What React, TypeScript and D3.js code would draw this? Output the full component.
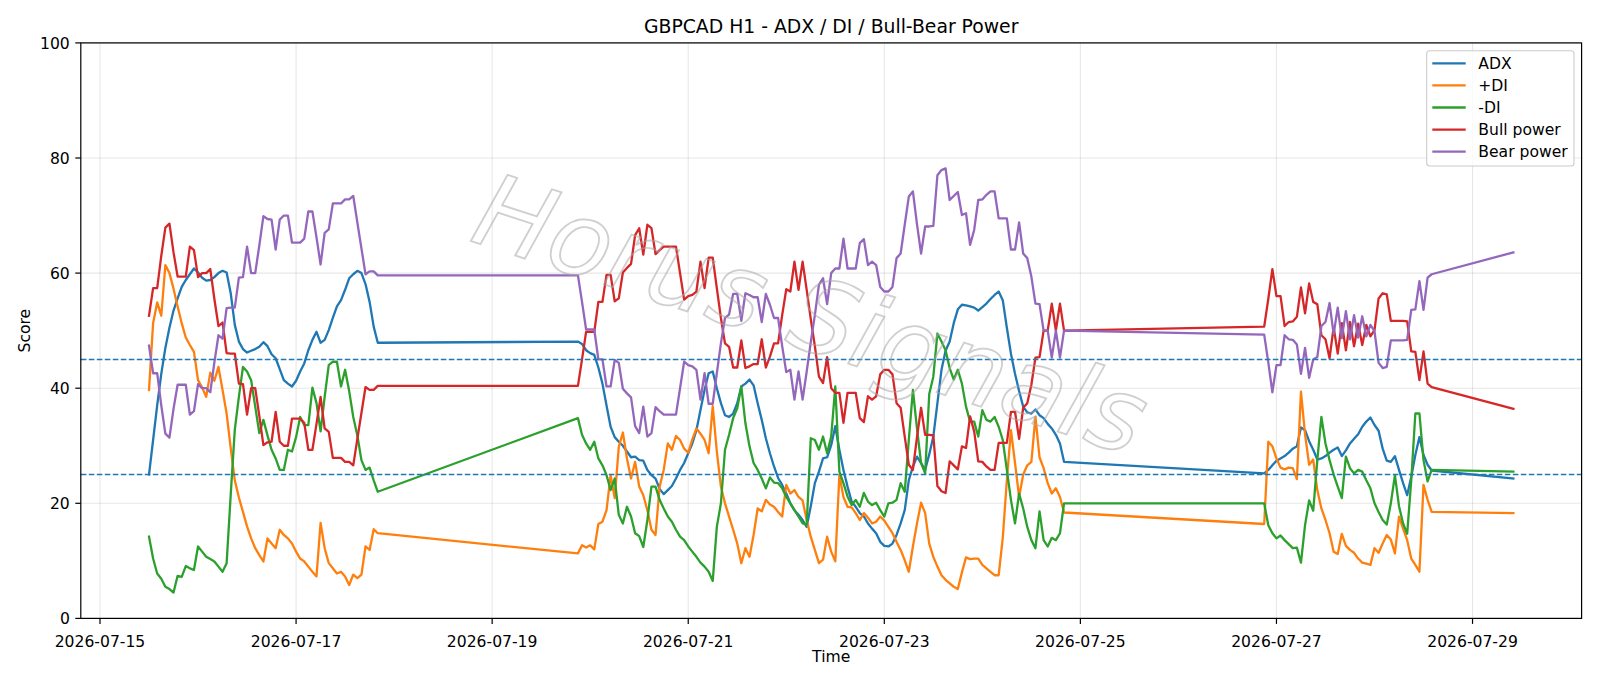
import * as d3 from "d3";
import {useEffect, useRef} from "react";

const W = 1600;
const H = 686;
const frame = {left: 80.8, right: 1581.6, top: 42.9, bottom: 618.4};
const font = "DejaVu Sans, Liberation Sans, sans-serif";

// hourly bars, one entry per trading session: first bar and number of bars
const sessions: [string, number][] = [
    ["2026-07-15T12:00:00Z", 57],
    ["2026-07-19T21:00:00Z", 120],
    ["2026-07-26T21:00:00Z", 42],
    ["2026-07-29T10:00:00Z", 1],
];

const adx = [
    25.0, 31.0, 37.0, 42.5, 47.0, 50.5, 53.5, 55.6, 57.6, 58.8,
    59.8, 60.8, 60.1, 59.2, 58.7, 58.8, 59.3, 60.0, 60.4, 60.1,
    56.5, 51.0, 48.1, 46.8, 46.2, 46.5, 46.8, 47.2, 48.0, 47.3,
    45.9, 45.2, 43.3, 41.4, 40.8, 40.3, 41.3, 42.9, 44.3, 46.6,
    48.4, 49.8, 47.9, 48.4, 50.1, 52.2, 54.2, 55.3, 57.1, 59.1,
    59.8, 60.4, 60.0, 58.1, 55.0, 50.7, 47.9,
    48.1, 47.7, 46.6, 46.1, 45.8, 43.6, 40.8, 37.0, 33.3, 31.5,
    30.7, 30.0, 29.0, 28.0, 28.1, 27.5, 27.4, 25.8, 24.9, 24.3,
    22.5, 21.6, 22.3, 23.0, 24.3, 25.8, 27.0, 28.7, 30.4, 32.7,
    36.2, 39.7, 42.6, 42.9, 40.0, 37.4, 35.3, 35.0, 35.6, 37.4,
    40.3, 40.8, 41.5, 40.5, 37.4, 34.5, 31.3, 28.7, 26.4, 24.4,
    23.2, 21.7, 20.0, 18.8, 18.0, 17.1, 15.9, 19.5, 23.5, 25.5,
    27.8, 28.0, 30.1, 33.4, 29.3, 25.8, 22.9, 20.3, 19.4, 18.3,
    17.7, 16.5, 15.6, 14.8, 13.3, 12.6, 12.5, 13.0, 14.5, 16.5,
    18.8, 24.0, 26.4, 28.1, 27.0, 25.8, 28.5, 31.6, 37.4, 43.2,
    46.5, 48.1, 51.3, 53.7, 54.5, 54.4, 54.2, 54.0, 53.5, 54.1,
    54.7, 55.5, 56.2, 56.8, 55.3, 50.5, 46.0, 42.5, 39.5, 36.8,
    35.8, 35.6, 36.3, 35.3, 34.8, 33.8, 33.0, 31.9, 30.4, 27.2,
    25.2, 25.8, 26.6, 27.4, 27.8, 28.2, 28.8, 29.5, 29.9, 33.2,
    32.7, 30.8, 29.3, 27.6, 27.8, 28.2, 28.8, 29.3, 29.7, 28.2,
    29.2, 30.4, 31.2, 32.0, 33.3, 34.2, 34.9, 33.6, 32.6, 29.5,
    27.4, 27.2, 28.2, 25.8, 23.5, 21.4, 24.6, 28.4, 31.5, 28.4,
    26.7, 25.7,
    24.3,
];

const plusDi = [
    39.7, 51.3, 54.9, 52.6, 61.4, 60.0, 57.3, 54.2, 51.3, 48.8,
    47.5, 46.3, 41.4, 40.1, 38.5, 42.7, 41.3, 43.7, 39.7, 35.6,
    29.6, 24.0, 21.0, 18.5, 16.0, 13.9, 12.2, 11.0, 9.9, 13.9,
    13.0, 12.2, 15.4, 14.5, 13.9, 13.0, 11.6, 10.4, 9.9, 9.0,
    8.1, 7.3, 16.6, 12.2, 9.6, 8.7, 7.8, 8.1, 7.3, 5.8,
    7.6, 7.0, 7.6, 12.5, 11.9, 15.5, 14.8,
    11.3, 12.7, 12.3, 12.7, 12.0, 16.4, 16.8, 18.8, 24.9, 20.9,
    29.8, 32.3, 27.8, 24.3, 27.2, 22.9, 21.4, 18.8, 15.4, 14.5,
    22.9, 25.8, 30.4, 29.3, 31.7, 31.0, 29.5, 28.8, 31.1, 33.0,
    32.1, 31.0, 28.7, 36.9, 29.0, 22.9, 20.0, 17.7, 15.4, 13.0,
    9.6, 12.2, 10.7, 14.5, 19.1, 18.6, 20.6, 19.8, 19.4, 18.5,
    17.7, 23.2, 21.7, 22.3, 21.1, 20.5, 17.1, 14.2, 11.9, 9.6,
    10.2, 14.2, 11.6, 9.9, 24.9, 21.1, 19.4, 19.3, 18.3, 17.1,
    18.3, 17.5, 16.5, 16.8, 17.7, 17.0, 15.9, 14.8, 13.3, 11.9,
    10.1, 8.1, 12.5, 16.5, 20.1, 18.3, 13.0, 10.7, 9.0, 7.5,
    6.7, 6.1, 5.5, 5.1, 8.0, 10.6, 10.3, 10.4, 10.4, 9.3,
    8.7, 8.1, 7.5, 7.5, 14.0, 24.0, 32.7, 27.0, 21.1, 25.0,
    26.6, 27.2, 35.0, 28.0, 26.1, 23.5, 21.7, 22.6, 21.1, 18.4,
    16.4, 30.7, 29.9, 27.8, 26.2, 25.9, 26.2, 26.1, 24.2, 39.4,
    32.0, 26.7, 27.6, 22.3, 19.1, 17.1, 14.8, 11.6, 11.2, 14.7,
    12.6, 11.9, 11.4, 10.4, 9.7, 9.5, 9.3, 12.2, 11.4, 13.0,
    14.5, 13.7, 11.3, 17.7, 15.6, 13.6, 10.4, 9.3, 8.1, 23.2,
    20.6, 18.5,
    18.3,
];

const minusDi = [
    14.2, 10.4, 7.8, 6.9, 5.5, 5.1, 4.5, 7.4, 7.2, 9.1,
    8.7, 8.4, 12.5, 11.6, 10.7, 10.3, 9.9, 9.0, 8.1, 9.6,
    21.5, 32.8, 38.5, 43.7, 42.9, 41.4, 36.8, 32.2, 34.5, 31.8,
    29.3, 27.8, 25.8, 25.8, 29.3, 29.0, 31.5, 35.0, 33.6, 33.6,
    40.1, 37.4, 32.5, 38.5, 44.0, 44.6, 44.6, 40.3, 43.2, 39.5,
    35.0, 31.8, 27.5, 25.8, 26.2, 24.0, 22.0,
    34.8, 31.9, 30.4, 29.3, 30.7, 27.8, 26.6, 24.9, 22.3, 24.3,
    18.0, 16.5, 19.4, 17.7, 14.8, 14.3, 12.4, 17.1, 22.9, 22.9,
    20.6, 19.1, 17.7, 16.8, 15.4, 14.2, 13.6, 12.5, 11.6, 10.7,
    9.7, 9.0, 8.1, 6.5, 15.9, 20.0, 29.3, 31.9, 34.8, 36.5,
    40.3, 33.9, 29.9, 27.0, 25.8, 24.3, 22.6, 24.5, 23.6, 23.5,
    22.6, 21.1, 20.0, 18.8, 17.7, 16.5, 16.3, 31.3, 31.0, 29.3,
    31.6, 28.7, 31.6, 40.3, 25.5, 23.5, 21.2, 19.7, 20.6, 19.4,
    21.8, 20.3, 19.7, 20.1, 18.8, 17.7, 20.0, 20.1, 20.6, 23.5,
    22.0, 31.0, 39.7, 33.0, 27.0, 25.2, 39.0, 42.0, 49.5, 48.1,
    46.6, 43.5, 41.5, 43.2, 40.8, 36.8, 34.2, 34.2, 31.6, 36.2,
    34.5, 34.2, 35.0, 33.3, 31.0, 25.8, 20.6, 16.5, 21.7, 19.1,
    15.9, 13.6, 12.2, 18.6, 13.6, 12.5, 14.0, 13.6, 14.8, 20.0,
    20.0, 16.2, 14.8, 13.9, 14.4, 13.6, 12.9, 12.2, 12.3, 9.7,
    16.2, 20.5, 18.7, 27.5, 35.0, 30.4, 27.5, 25.0, 22.9, 20.9,
    28.1, 26.1, 25.2, 25.8, 25.5, 24.0, 22.6, 20.0, 18.5, 17.1,
    16.3, 20.0, 24.9, 19.5, 16.5, 14.7, 24.0, 35.6, 35.6, 27.5,
    23.8, 25.8,
    25.5,
];

const bullPower = [
    52.6, 57.4, 57.4, 63.0, 67.9, 68.6, 63.6, 59.4, 59.4, 59.4,
    64.6, 64.0, 59.3, 60.0, 60.0, 60.7, 55.5, 50.8, 51.4, 46.1,
    46.0, 46.0, 40.8, 40.7, 35.4, 40.0, 40.0, 35.2, 30.1, 30.6,
    30.7, 35.9, 30.7, 30.0, 30.0, 34.7, 34.7, 34.7, 34.0, 29.3,
    29.3, 33.8, 38.5, 33.0, 32.4, 27.9, 27.9, 27.9, 27.2, 27.2,
    26.6, 31.2, 35.7, 40.2, 39.7, 39.7, 40.4,
    40.4, 45.0, 49.8, 49.8, 49.8, 55.0, 55.0, 59.7, 59.7, 55.1,
    55.6, 60.1, 60.9, 61.6, 66.6, 67.8, 63.2, 68.4, 67.8, 63.3,
    64.0, 64.6, 64.6, 64.6, 64.6, 60.0, 55.4, 56.0, 56.2, 56.8,
    62.0, 57.4, 62.7, 62.7, 57.4, 52.2, 47.8, 47.2, 43.6, 43.6,
    48.3, 43.5, 43.8, 44.2, 44.2, 48.5, 43.6, 45.5, 47.8, 47.8,
    52.7, 57.2, 56.8, 62.0, 57.1, 62.0, 57.1, 52.0, 47.3, 42.0,
    40.9, 45.4, 40.0, 39.2, 39.2, 34.0, 39.2, 39.2, 39.2, 34.8,
    34.1, 38.6, 38.0, 38.6, 42.4, 43.2, 43.2, 42.4, 37.4, 36.6,
    31.6, 26.7, 25.8, 31.5, 36.6, 31.9, 31.9, 31.8, 23.0, 22.1,
    21.8, 27.3, 26.6, 25.9, 29.9, 29.6, 35.1, 32.5, 27.3, 27.2,
    26.4, 25.8, 25.8, 30.5, 30.5, 30.5, 35.9, 35.9, 31.2, 36.6,
    37.4, 40.6, 45.3, 45.4, 50.0, 50.0, 54.7, 50.0, 54.7, 50.0,
    50.7, 55.5, 60.7, 56.0, 56.0, 50.8, 51.5, 51.6, 52.4, 57.5,
    53.0, 58.2, 55.0, 54.6, 49.2, 48.5, 45.2, 50.6, 46.0, 51.3,
    46.6, 51.5, 47.3, 51.2, 47.5, 51.0, 49.0, 50.1, 55.6, 56.5,
    56.3, 51.7, 51.7, 51.7, 51.7, 51.6, 46.4, 46.3, 41.4, 46.4,
    40.8, 40.2,
    36.4,
];

const bearPower = [
    47.4, 42.6, 42.6, 37.0, 32.1, 31.4, 36.4, 40.6, 40.6, 40.6,
    35.4, 36.0, 40.7, 40.0, 40.0, 39.3, 44.5, 49.2, 48.6, 53.9,
    54.0, 54.0, 59.2, 59.3, 64.6, 60.0, 60.0, 64.8, 69.9, 69.4,
    69.3, 64.1, 69.3, 70.0, 70.0, 65.3, 65.3, 65.3, 66.0, 70.7,
    70.7, 66.2, 61.5, 67.0, 67.6, 72.1, 72.1, 72.1, 72.8, 72.8,
    73.4, 68.8, 64.3, 59.8, 60.3, 60.3, 59.6,
    59.6, 55.0, 50.2, 50.2, 50.2, 45.0, 45.0, 40.3, 40.3, 44.9,
    44.4, 39.9, 39.1, 38.4, 33.4, 32.2, 36.8, 31.6, 32.2, 36.7,
    36.0, 35.4, 35.4, 35.4, 35.4, 40.0, 44.6, 44.0, 43.8, 43.2,
    38.0, 42.6, 37.3, 37.3, 42.6, 47.8, 52.2, 52.8, 56.4, 56.4,
    51.7, 56.5, 56.2, 55.8, 55.8, 51.5, 56.4, 54.5, 52.2, 52.2,
    47.3, 42.8, 43.2, 38.0, 42.9, 38.0, 42.9, 48.0, 52.7, 58.0,
    59.1, 54.6, 60.0, 60.8, 60.8, 66.0, 60.8, 60.8, 60.8, 65.2,
    65.9, 61.4, 62.0, 61.4, 57.6, 56.8, 56.8, 57.6, 62.6, 63.4,
    68.4, 73.3, 74.2, 68.5, 63.4, 68.1, 68.1, 68.2, 77.0, 77.9,
    78.2, 72.7, 73.4, 74.1, 70.1, 70.4, 64.9, 67.5, 72.7, 72.8,
    73.6, 74.2, 74.2, 69.5, 69.5, 69.5, 64.1, 64.1, 68.8, 63.4,
    62.6, 59.4, 54.7, 54.6, 50.0, 50.0, 45.3, 50.0, 45.3, 50.0,
    49.3, 44.5, 39.3, 44.0, 44.0, 49.2, 48.5, 48.4, 47.6, 42.5,
    47.0, 41.8, 45.0, 45.4, 50.8, 51.5, 54.8, 49.4, 54.0, 48.7,
    53.4, 48.5, 52.7, 48.8, 52.5, 49.0, 51.0, 49.9, 44.4, 43.5,
    43.7, 48.3, 48.3, 48.3, 48.3, 48.4, 53.6, 53.7, 58.6, 53.6,
    59.2, 59.8,
    63.6,
];

const seriesNames = ["ADX", "+DI", "-DI", "Bull power", "Bear power"];
const seriesColors = ["#1f77b4", "#ff7f0e", "#2ca02c", "#d62728", "#9467bd"];
const seriesValues = [adx, plusDi, minusDi, bullPower, bearPower];

const yTicks = [0, 20, 40, 60, 80, 100];
const xTickDays = ["2026-07-15", "2026-07-17", "2026-07-19", "2026-07-21", "2026-07-23", "2026-07-25", "2026-07-27", "2026-07-29"];
const levels = [45, 25];

const useD3 = (render: (svg: any) => void, deps: any[]) => {
    const ref = useRef<SVGSVGElement>(null);
    useEffect(() => {
        render(d3.select(ref.current));
    }, deps);
    return ref;
};

const App = () => {
    const ref = useD3((svg) => {
        svg.selectAll("*").remove();

        const times: Date[] = sessions.flatMap(([start, n]) =>
            d3.range(n).map((i) => new Date(Date.parse(start) + i * 3600e3)));

        const [t0, t1] = d3.extent(times) as [Date, Date];
        const pad = (+t1 - +t0) * 0.05;
        const x = d3.scaleUtc()
            .domain([new Date(+t0 - pad), new Date(+t1 + pad)])
            .range([frame.left, frame.right]);
        const y = d3.scaleLinear().domain([0, 100]).range([frame.bottom, frame.top]);

        const xTicks = xTickDays.map((d) => new Date(d + "T00:00:00Z"));
        const fmt = d3.utcFormat("%Y-%m-%d");

        svg.append("rect").attr("width", W).attr("height", H).attr("fill", "#fff");

        // grid
        const grid = svg.append("g").attr("stroke", "#b0b0b0").attr("stroke-opacity", 0.3).attr("stroke-width", 1.1);
        grid.selectAll("line.gx").data(xTicks).enter().append("line")
            .attr("x1", (d) => x(d)).attr("x2", (d) => x(d))
            .attr("y1", frame.top).attr("y2", frame.bottom);
        grid.selectAll("line.gy").data(yTicks).enter().append("line")
            .attr("x1", frame.left).attr("x2", frame.right)
            .attr("y1", (d) => y(d)).attr("y2", (d) => y(d));

        const plot = svg.append("g");
        const line = d3.line<number>()
            .x((d, i) => x(times[i]))
            .y((d) => y(d));
        seriesValues.forEach((vals, k) => {
            plot.append("path")
                .attr("d", line(vals))
                .attr("fill", "none")
                .attr("stroke", seriesColors[k])
                .attr("stroke-width", 2.3)
                .attr("stroke-linejoin", "round")
                .attr("stroke-linecap", "square");
        });

        plot.selectAll("line.level").data(levels).enter().append("line")
            .attr("x1", frame.left).attr("x2", frame.right)
            .attr("y1", (d) => y(d)).attr("y2", (d) => y(d))
            .attr("stroke", "#1f77b4")
            .attr("stroke-width", 1.5)
            .attr("stroke-dasharray", "5.6,2.4");

        // watermark, thin grey outline
        svg.append("text")
            .attr("transform", "translate(800,348) rotate(18)")
            .attr("text-anchor", "middle")
            .attr("font-family", font)
            .attr("font-style", "italic")
            .attr("font-size", 102)
            .attr("fill", "none")
            .attr("stroke", "#a8a8a8")
            .attr("stroke-opacity", 0.55)
            .attr("stroke-width", 1.8)
            .text("Horus Signals");

        // frame and ticks
        svg.append("rect")
            .attr("x", frame.left).attr("y", frame.top)
            .attr("width", frame.right - frame.left).attr("height", frame.bottom - frame.top)
            .attr("fill", "none").attr("stroke", "#000").attr("stroke-width", 1.2);

        const axes = svg.append("g").attr("font-family", font).attr("font-size", 15.6).attr("fill", "#000");
        xTicks.forEach((d) => {
            axes.append("line").attr("x1", x(d)).attr("x2", x(d))
                .attr("y1", frame.bottom).attr("y2", frame.bottom + 5.5)
                .attr("stroke", "#000").attr("stroke-width", 1.2);
            axes.append("text").attr("x", x(d)).attr("y", frame.bottom + 29)
                .attr("text-anchor", "middle").text(fmt(d));
        });
        yTicks.forEach((d) => {
            axes.append("line").attr("x1", frame.left - 5.5).attr("x2", frame.left)
                .attr("y1", y(d)).attr("y2", y(d))
                .attr("stroke", "#000").attr("stroke-width", 1.2);
            axes.append("text").attr("x", frame.left - 11).attr("y", y(d) + 5.7)
                .attr("text-anchor", "end").text(d);
        });

        axes.append("text").attr("x", (frame.left + frame.right) / 2).attr("y", 662)
            .attr("text-anchor", "middle").text("Time");
        axes.append("text").attr("transform", `translate(30,${(frame.top + frame.bottom) / 2}) rotate(-90)`)
            .attr("text-anchor", "middle").text("Score");
        axes.append("text").attr("x", (frame.left + frame.right) / 2).attr("y", 33)
            .attr("text-anchor", "middle").attr("font-size", 18.8).text("GBPCAD H1 - ADX / DI / Bull-Bear Power");

        // legend
        const lg = svg.append("g").attr("font-family", font).attr("font-size", 15.6);
        lg.append("rect").attr("x", 1426.7).attr("y", 50.7).attr("width", 147.3).attr("height", 115.3)
            .attr("rx", 3).attr("fill", "#fff").attr("fill-opacity", 0.8)
            .attr("stroke", "#cccccc").attr("stroke-width", 1.1);
        seriesNames.forEach((name, k) => {
            const cy = 63.3 + k * 22.1;
            lg.append("line").attr("x1", 1432.3).attr("x2", 1465.7).attr("y1", cy).attr("y2", cy)
                .attr("stroke", seriesColors[k]).attr("stroke-width", 2.3);
            lg.append("text").attr("x", 1478.3).attr("y", cy + 5.6).text(name);
        });
    }, []);

    return (
        <div style={{position: "absolute", left: 0, top: 0}}>
            <svg ref={ref} width={W} height={H} style={{display: "block"}}></svg>
        </div>
    );
};

export default App;
